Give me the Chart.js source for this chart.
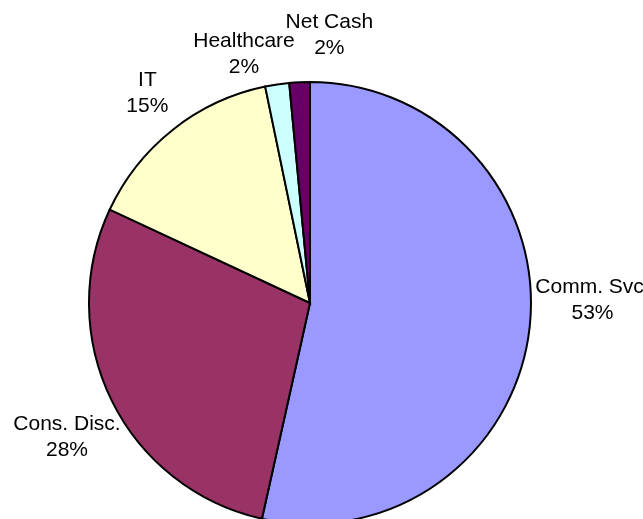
<!DOCTYPE html>
<html>
<head>
<meta charset="utf-8">
<script src="https://cdn.jsdelivr.net/npm/chart.js@4.4.1/dist/chart.umd.min.js"></script>
<style>
  html, body { margin: 0; padding: 0; background: #ffffff; overflow: hidden; }
  #wrap { width: 643px; height: 519px; overflow: hidden; }
</style>
</head>
<body>
<div id="wrap"><canvas id="pieChart" width="643" height="519"></canvas></div>
<script>
////////////////////////////// Data \\\\\\\\\\\\\\\\\\\\\\\\\\\\\\

// sectors, clockwise from 12 o'clock
var sectors = ['Comm. Svc.', 'Cons. Disc.', 'IT', 'Healthcare', 'Net Cash'];
// share of portfolio, in %
var weights = [53.49, 28.46, 14.8, 1.75, 1.5];
var sectorColors = ['#9999FF', '#993366', '#FFFFCC', '#CCFFFF', '#660066'];

////////////////////////////// Labels \\\\\\\\\\\\\\\\\\\\\\\\\\\\\\

// small shifts like the ones Excel does to keep labels apart
var labelShift = [[2, -30], [7, 23], [-10, -13], [-25, -1], [32, -17]];

var labelFont = '21px "Liberation Sans", Arial, sans-serif';
var lineH = 26;
var gap = 4;

const outsideLabels = {
  id: 'outsideLabels',
  afterDatasetsDraw(chart) {
    const ctx = chart.ctx;
    const meta = chart.getDatasetMeta(0);
    ctx.save();
    ctx.font = labelFont;
    ctx.fillStyle = '#000000';
    ctx.textAlign = 'center';
    ctx.textBaseline = 'middle';
    meta.data.forEach(function (arc, i) {
      const p = arc.getProps(['x', 'y', 'startAngle', 'endAngle', 'outerRadius'], true);
      const mid = (p.startAngle + p.endAngle) / 2;
      const lines = [chart.data.labels[i], Math.round(weights[i]) + '%'];
      var w = 0;
      lines.forEach(function (t) { w = Math.max(w, ctx.measureText(t).width); });
      const h = lines.length * lineH;
      const r = p.outerRadius + gap;
      var cx = p.x + Math.cos(mid) * r + Math.cos(mid) * w / 2 + labelShift[i][0];
      var cy = p.y + Math.sin(mid) * r + Math.sin(mid) * h / 2 + labelShift[i][1];
      lines.forEach(function (t, k) {
        ctx.fillText(t, cx, cy - h / 2 + lineH / 2 + k * lineH);
      });
    });
    ctx.restore();
  }
};

////////////////////////////// Chart \\\\\\\\\\\\\\\\\\\\\\\\\\\\\\

const ctx = document.getElementById('pieChart').getContext('2d');
const myChart = new Chart(ctx, {
  type: 'pie',
  data: {
    labels: sectors,
    datasets: [{
      data: weights,
      backgroundColor: sectorColors,
      borderColor: '#000000',
      borderWidth: 2,
      borderJoinStyle: 'miter',
      radius: 221,
      clip: false
    }]
  },
  options: {
    responsive: false,
    animation: false,
    devicePixelRatio: 1,
    layout: { padding: { left: 0, right: 23, top: 87, bottom: 0 } },
    plugins: {
      legend: { display: false },
      tooltip: { enabled: false }
    },
    events: []
  },
  plugins: [outsideLabels]
});
</script>
</body>
</html>
